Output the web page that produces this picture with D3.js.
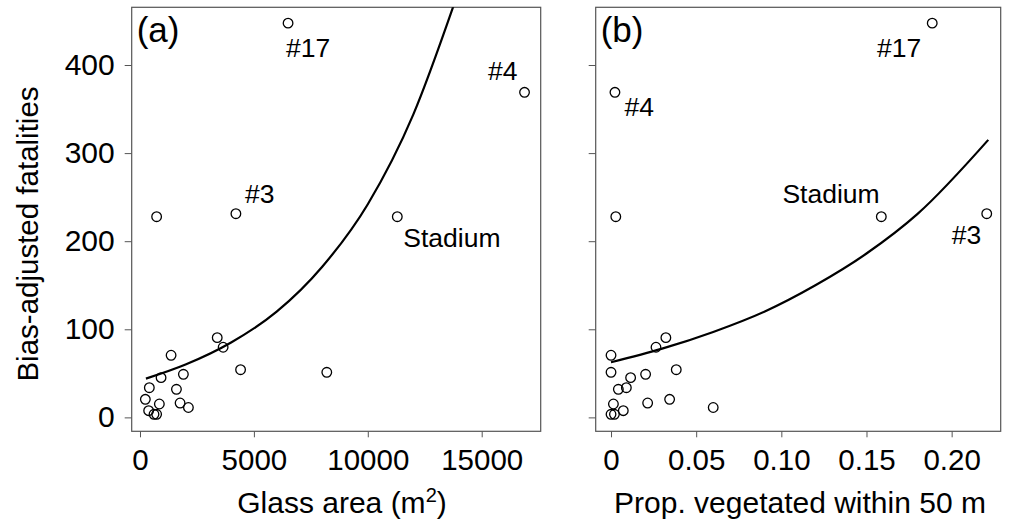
<html>
<head>
<title>Bias-adjusted fatalities</title>
<script src="https://d3js.org/d3.v7.min.js"></script>
<style>
	body {margin: 0; background: #fff;}
	svg {display: block; font-family: "Liberation Sans", Arial, sans-serif;}
	.tick line {stroke: #555;}
	.tick text {fill: #000;}
</style>
</head>
<body>
<div id="chart"></div>
<script>
// values, one entry per site
var fatalities = [90.5, 79.6, 70.5, 54.1, 51.2, 48.9, 45.1, 33.7, 31.9, 20.5, 16.3,
	15.2, 11.2, 7.6, 3.5, 3.5, 447.5, 369, 227.8, 231.2, 227.8];
var glassArea = [3390, 3650, 1365, 4415, 8200, 1905, 925, 410, 1600, 235, 1760,
	850, 2125, 380, 615, 730, 6500, 16880, 730, 4210, 11295];
var propVeg = [0.0322, 0.0264, 0, 0.0383, 0, 0.0203, 0.0115, 0.0090, 0.0043, 0.0344, 0.0215,
	0.0014, 0.0600, 0.0072, 0, 0.0020, 0.1886, 0.0023, 0.0028, 0.2206, 0.1587];
var siteLabel = ["", "", "", "", "", "", "", "", "", "", "",
	"", "", "", "", "", "#17", "#4", "", "#3", "Stadium"];

// fitted curves, points
var glassFitX = [260, 2000, 4000, 6000, 8000, 10000, 12000, 13800];
var glassFitY = [44, 60, 85, 120, 171, 242, 344, 470];
var vegFitX = [0, 0.03, 0.06, 0.09, 0.12, 0.15, 0.18, 0.2215];
var vegFitY = [62.5, 78, 97, 120, 150, 186, 231, 315];

// tick labels
var fatalTicks = [0, 100, 200, 300, 400];
var glassTicks = [0, 5000, 10000, 15000];
var vegTicks = [0, 0.05, 0.10, 0.15, 0.20];

var width = 1011, height = 525;
var svg = d3.select("#chart").append("svg")
	.attr("width", width)
	.attr("height", height);

// y scale is shared by both panels
var top_ = 7.3, bottom = 431.3;
var yScale = d3.scaleLinear().domain([-15.8, 465.5]).range([bottom, top_]);

function drawPanel(p) {
	var g = svg.append("g");
	var xScale = d3.scaleLinear().domain(p.domain).range([p.left, p.right]);

	g.append("clipPath").attr("id", "clip" + p.id)
		.append("rect")
		.attr("x", p.left).attr("y", top_)
		.attr("width", p.right - p.left).attr("height", bottom - top_);

	// axes (box drawn separately)
	var yAxis = g.append("g")
		.attr("transform", "translate(" + p.left + ",0)")
		.call(d3.axisLeft(yScale).tickValues(fatalTicks).tickSize(7).tickPadding(10)
			.tickFormat(p.yLabels ? d3.format("d") : ""));
	yAxis.select(".domain").remove();
	yAxis.selectAll("text").style("font-size", "30px");

	var xAxis = g.append("g")
		.attr("transform", "translate(0," + bottom + ")")
		.call(d3.axisBottom(xScale).tickValues(p.ticks).tickSize(6).tickPadding(12)
			.tickFormat(p.format));
	xAxis.select(".domain").remove();
	xAxis.selectAll("text").style("font-size", "29.5px");

	g.append("rect")
		.attr("x", p.left).attr("y", top_)
		.attr("width", p.right - p.left).attr("height", bottom - top_)
		.style("fill", "none")
		.style("stroke", "#555")
		.style("stroke-width", 1.2);

	// fitted curve
	var line = d3.line()
		.x(function(d) { return xScale(d[0]); })
		.y(function(d) { return yScale(d[1]); })
		.curve(d3.curveMonotoneX);
	g.append("path")
		.datum(d3.zip(p.fitX, p.fitY))
		.attr("clip-path", "url(#clip" + p.id + ")")
		.attr("d", line)
		.style("fill", "none")
		.style("stroke", "#000")
		.style("stroke-width", 2.2);

	// points
	p.x.forEach(function(v, i) {
		g.append("circle")
			.attr("cx", xScale(v))
			.attr("cy", yScale(fatalities[i]))
			.attr("r", 4.8)
			.style("fill", "none")
			.style("stroke", "#000")
			.style("stroke-width", 1.3);

		var lab = siteLabel[i];
		if (lab) {
			var o = p.offsets[lab];
			g.append("text")
				.attr("x", xScale(v) + o[0])
				.attr("y", yScale(fatalities[i]) + o[1])
				.attr("text-anchor", o[2])
				.style("font-size", "26.5px")
				.text(lab);
		}
	});

	g.append("text")
		.attr("x", p.left + 5)
		.attr("y", 42)
		.style("font-size", "35px")
		.text(p.tag);

	var title = g.append("text")
		.attr("x", p.titleX)
		.attr("y", 513)
		.attr("text-anchor", "middle")
		.style("font-size", "30px");
	title.append("tspan").text(p.title);
	if (p.sup) {
		title.append("tspan").attr("dy", -11).style("font-size", "20px").text(p.sup);
		title.append("tspan").attr("dy", 11).text(")");
	}
}

drawPanel({
	id: "a", tag: "(a)", left: 131.7, right: 540.7, domain: [-364, 17590],
	x: glassArea, fitX: glassFitX, fitY: glassFitY, ticks: glassTicks,
	format: d3.format("d"), yLabels: true,
	title: "Glass area (m", sup: "2", titleX: 342,
	offsets: {"#17": [-2, 33.5, "start"], "#4": [-7, -12.7, "end"],
		"#3": [9, -10.4, "start"], "Stadium": [6, 30, "start"]}
});

drawPanel({
	id: "b", tag: "(b)", left: 595.7, right: 1000.7, domain: [-0.009, 0.2288],
	x: propVeg, fitX: vegFitX, fitY: vegFitY, ticks: vegTicks,
	format: function(d) { return d === 0 ? "0" : d3.format(".2f")(d); }, yLabels: false,
	title: "Prop. vegetated within 50 m", titleX: 800,
	offsets: {"#17": [-11, 34, "end"], "#4": [9.5, 23.3, "start"],
		"#3": [-5.5, 30.7, "end"], "Stadium": [-1.7, -13.4, "end"]}
});

// rotated y title
svg.append("text")
	.attr("transform", "translate(38,234) rotate(-90)")
	.attr("text-anchor", "middle")
	.style("font-size", "29.5px")
	.text("Bias-adjusted fatalities");
</script>
</body>
</html>
